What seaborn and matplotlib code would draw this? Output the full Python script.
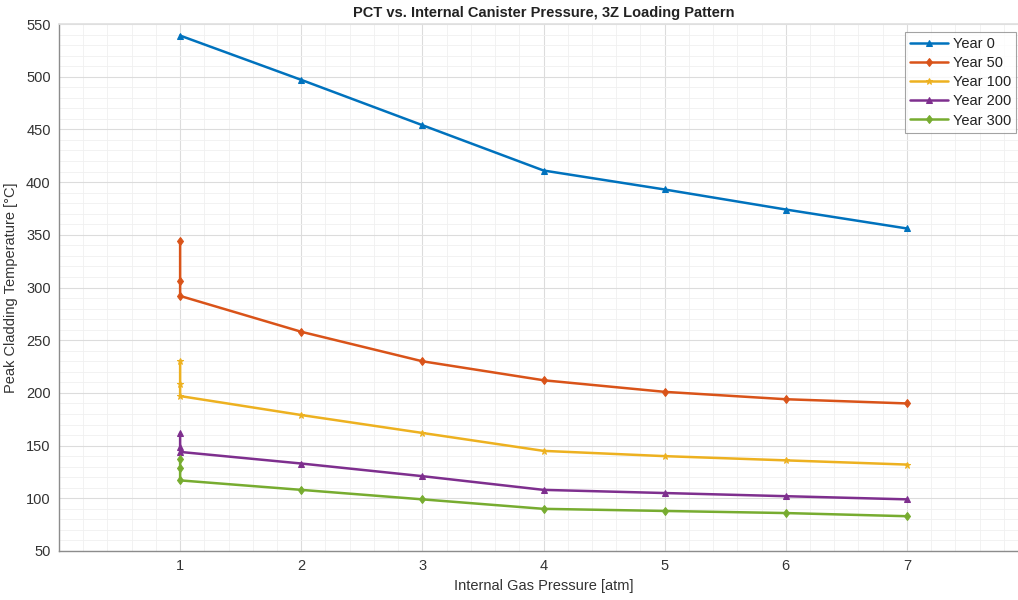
import matplotlib
matplotlib.use("Agg")
import matplotlib.pyplot as plt
from matplotlib.ticker import MultipleLocator
import numpy as np
import pandas as pd
import seaborn as sns

# Internal gas pressure [atm]; the first three points of each case sit at 1 atm
pressure = [1, 1, 1, 2, 3, 4, 5, 6, 7]
pressure_y0 = [1, 2, 3, 4, 5, 6, 7]

# Peak cladding temperature [°C]
pct_year0 = [539, 497, 454, 411, 393, 374, 356]
pct_year50 = [344, 306, 292, 258, 230, 212, 201, 194, 190]
pct_year100 = [230, 208, 197, 179, 162, 145, 140, 136, 132]
pct_year200 = [162, 149, 144, 133, 121, 108, 105, 102, 99]
pct_year300 = [137, 129, 117, 108, 99, 90, 88, 86, 83]

series_names = ["Year 0", "Year 50", "Year 100", "Year 200", "Year 300"]
series_x = [pressure_y0, pressure, pressure, pressure, pressure]
series_y = [pct_year0, pct_year50, pct_year100, pct_year200, pct_year300]

colors = ["#0072BD", "#D95319", "#EDB120", "#7E2F8E", "#77AC30"]
markers = ["^", "d", "*", "^", "d"]
msizes = [5.0, 4.5, 4.5, 5.0, 4.5]

sns.set_theme(style="white")
plt.rcParams["font.family"] = ["Liberation Sans", "DejaVu Sans"]

fig = plt.figure(figsize=(10.18, 6.0), dpi=100)
ax = fig.add_axes([59 / 1018, 49 / 600, 969 / 1018, 527 / 600])

for name, xs, ys, c, m, ms in zip(series_names, series_x, series_y, colors, markers, msizes):
    df = pd.DataFrame({"p": xs, "t": ys})
    sns.lineplot(data=df, x="p", y="t", ax=ax, sort=False, estimator=None,
                 color=c, marker=m, markersize=ms, markeredgecolor=c,
                 linewidth=1.8, label=name)

ax.set_xlim(0, 8)
ax.set_ylim(50, 550)
ax.set_xticks(range(1, 8))
ax.set_yticks(range(50, 551, 50))
ax.xaxis.set_minor_locator(MultipleLocator(0.2))
ax.yaxis.set_minor_locator(MultipleLocator(10))
ax.grid(True, which="major", color="#dcdcdc", linewidth=0.8)
ax.grid(True, which="minor", color="#f0f0f0", linewidth=0.6)
ax.set_axisbelow(True)

for side in ["left", "bottom"]:
    ax.spines[side].set_color("#8c8c8c")
    ax.spines[side].set_linewidth(1.0)
ax.spines["top"].set_color("#e0e0e0")
ax.spines["right"].set_visible(False)

ax.tick_params(axis="both", which="major", direction="in", length=5, width=0.8,
               color="#6e6e6e", labelsize=10.5, labelcolor="#333333", pad=6)
ax.tick_params(axis="both", which="minor", length=0)
ax.tick_params(top=False, right=False)

ax.set_xlabel("Internal Gas Pressure [atm]", fontsize=10.5, color="#333333", labelpad=4)
ax.set_ylabel("Peak Cladding Temperature [°C]", fontsize=10.5, color="#333333", labelpad=6)
ax.set_title("PCT vs. Internal Canister Pressure, 3Z Loading Pattern",
             fontsize=10.5, fontweight="bold", color="#222222", pad=5)

leg = ax.legend(loc="upper right", bbox_to_anchor=(1016 / 1018, 1 - 32 / 600),
                bbox_transform=fig.transFigure, frameon=True, fancybox=False,
                fontsize=10.5, handlelength=2.6, handletextpad=0.3,
                borderpad=0.35, labelspacing=0.35, borderaxespad=0)
leg.get_frame().set_edgecolor("#8c8c8c")
leg.get_frame().set_linewidth(0.8)
for txt in leg.get_texts():
    txt.set_color("#222222")

fig.savefig("out.png", dpi=100)
